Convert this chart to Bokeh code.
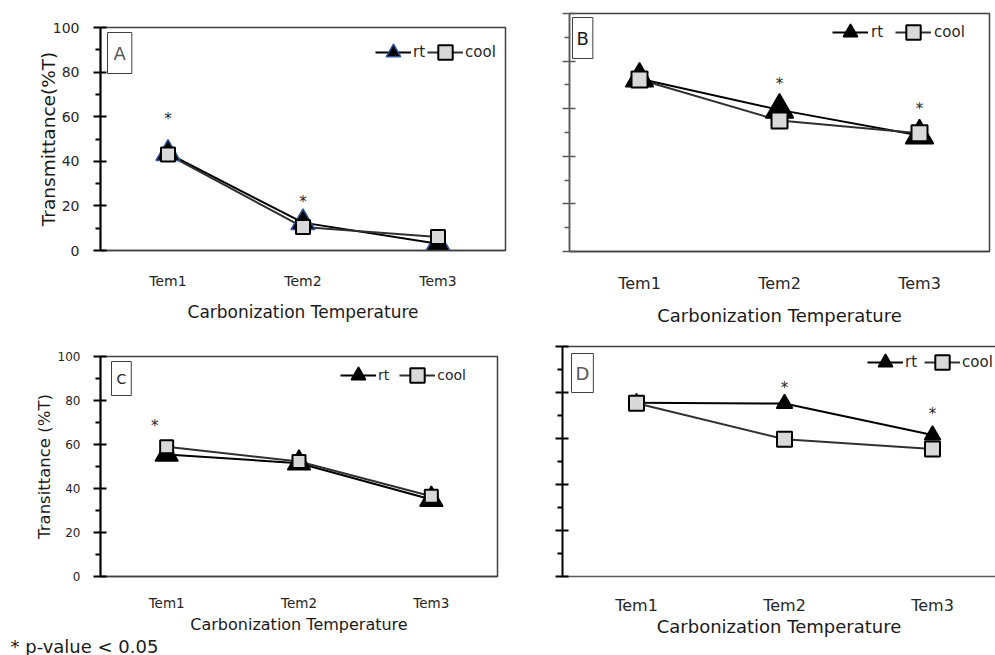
from bokeh.plotting import figure
from bokeh.layouts import column, row
from bokeh.models import Range1d, FixedTicker, Legend, LegendItem, Label, LinearAxis
from bokeh.core.properties import value
from bokeh.embed import file_html
from bokeh.resources import INLINE

FONT = "DejaVu Sans"

categories = ["Tem1", "Tem2", "Tem3"]
y_ticks = [0, 20, 40, 60, 80, 100]
y_minor = [10, 30, 50, 70, 90]
series_names = ["rt", "cool"]
footnote = "* p-value < 0.05"

# Panel A
a_rt = [43.5, 12.5, 3.0]
a_cool = [43.0, 10.5, 6.0]
a_star_idx = [0, 1]
a_star_y = [59.0, 21.7]

# Panel B
b_rt = [72.6, 59.5, 48.7]
b_cool = [72.3, 55.0, 49.7]
b_star_idx = [1, 2]
b_star_y = [70.5, 60.0]

# Panel C
c_rt = [55.5, 51.5, 35.0]
c_cool = [59.0, 52.3, 36.5]
c_star_idx = [0]
c_star_y = [68.5]

# Panel D
d_rt = [75.5, 75.2, 61.5]
d_cool = [75.3, 59.7, 55.4]
d_star_idx = [1, 2]
d_star_y = [82.0, 70.6]

x_idx = list(range(len(categories)))


def make_panel(cfg, rt, cool, star_idx, star_y):
    p = figure(width=cfg["w"], height=cfg["h"],
               x_range=Range1d(-0.5, cfg["x_end"]), y_range=Range1d(0, 100),
               output_backend="svg", toolbar_location=None, frame_align=False,
               min_border_left=cfg["bl"], min_border_right=cfg["br"],
               min_border_top=cfg["bt"], min_border_bottom=cfg["bb"])
    p.background_fill_color = "white"
    p.border_fill_color = "white"
    p.xgrid.visible = False
    p.ygrid.visible = False
    if cfg.get("outline", True):
        p.outline_line_color = "#404040"
        p.outline_line_width = 1.5
    else:
        p.outline_line_color = None

    # x axis
    xa = p.xaxis[0]
    xa.ticker = FixedTicker(ticks=x_idx)
    xa.major_label_overrides = {i: c for i, c in enumerate(categories)}
    xa.major_tick_out = 0
    xa.major_tick_in = 0
    xa.minor_tick_out = 0
    xa.minor_tick_in = 0
    xa.axis_line_color = cfg.get("xaxis_color", "#404040")
    xa.axis_line_width = 1.5
    xa.major_label_text_font = FONT
    xa.major_label_text_font_size = cfg["xtick_fs"]
    xa.major_label_text_color = "#262626"
    xa.major_label_standoff = cfg["xtick_so"]
    xa.axis_label = "Carbonization Temperature"
    xa.axis_label_text_font = FONT
    xa.axis_label_text_font_style = "normal"
    xa.axis_label_text_font_size = cfg["xlab_fs"]
    xa.axis_label_text_color = "#1a1a1a"
    xa.axis_label_standoff = cfg["xlab_so"]

    # y axis
    ya = p.yaxis[0]
    ya.ticker = FixedTicker(ticks=y_ticks, minor_ticks=y_minor)
    ya.major_tick_out = 7
    ya.major_tick_in = 6
    ya.minor_tick_out = 5
    ya.minor_tick_in = 0
    ycol = cfg.get("yaxis_color", "black")
    ya.axis_line_color = ycol
    ya.major_tick_line_color = ycol
    ya.minor_tick_line_color = ycol
    ya.axis_line_width = cfg.get("yaxis_w", 2)
    ya.major_tick_line_width = cfg.get("yaxis_w", 2)
    ya.minor_tick_line_width = cfg.get("yaxis_w", 2)
    if cfg.get("ylabel"):
        ya.major_label_text_font = FONT
        ya.major_label_text_font_size = cfg["ytick_fs"]
        ya.major_label_text_color = "#262626"
        ya.major_label_standoff = cfg["ytick_so"]
        ya.axis_label = cfg["ylabel"]
        ya.axis_label_text_font = FONT
        ya.axis_label_text_font_style = "normal"
        ya.axis_label_text_font_size = cfg["ylab_fs"]
        ya.axis_label_text_color = "#1a1a1a"
        ya.axis_label_standoff = cfg["ylab_so"]
    else:
        ya.major_label_overrides = {t: "" for t in y_ticks}
        ya.major_label_standoff = 0

    if not cfg.get("outline", True):
        top = LinearAxis(ticker=FixedTicker(ticks=[]), axis_line_color="#404040",
                         axis_line_width=1.5, major_tick_out=0, major_tick_in=0,
                         minor_tick_out=0, minor_tick_in=0)
        p.add_layout(top, "above")

    # data
    l_rt = p.line(x_idx, rt, line_color="black", line_width=2)
    l_cool = p.line(x_idx, cool, line_color="#303030", line_width=2)
    s_rt = p.scatter(x_idx, rt, marker="triangle", size=cfg["tri"],
                     fill_color="black", line_color=cfg.get("tri_edge", "black"),
                     line_width=1.5)
    s_cool = p.scatter(x_idx, cool, marker="square", size=cfg["sq"],
                       fill_color="#d9d9d9", line_color="black", line_width=2)

    p.text(x=star_idx, y=star_y, text=["*"] * len(star_idx),
           text_align="center", text_baseline="middle",
           text_font=value(FONT), text_font_size="15px", text_color="#262626",
           x_offset=cfg.get("star_dx", 0))

    legend = Legend(items=[LegendItem(label=series_names[0], renderers=[l_rt, s_rt]),
                           LegendItem(label=series_names[1], renderers=[l_cool, s_cool])],
                    orientation="horizontal", location=cfg["leg_loc"],
                    glyph_width=36, glyph_height=38, label_standoff=cfg["leg_so"],
                    label_width=0, spacing=cfg["leg_sp"], padding=0, margin=0,
                    border_line_color=None, background_fill_alpha=0,
                    label_text_font=FONT, label_text_font_size=cfg["leg_fs"],
                    label_text_color="#262626")
    p.add_layout(legend)

    lab = Label(x=cfg["pl_x"], y=cfg["pl_y"], x_units="screen", y_units="screen",
                text=cfg["panel"], text_align="left", text_baseline="top",
                text_font=FONT, text_font_size=cfg["pl_fs"], text_color=cfg["pl_color"],
                padding=cfg["pl_pad"], border_line_color="#404040", border_line_width=1,
                background_fill_color="white")
    p.add_layout(lab)
    return p


cfgA = dict(w=545, h=328, bl=100, br=40, bt=27, bb=78, x_end=2.5,
            xtick_fs="14px", xtick_so=22, xlab_fs="17px", xlab_so=10,
            ylabel="Transmittance(%T)", ytick_fs="14px", ytick_so=14,
            ylab_fs="18.5px", ylab_so=-9,
            tri=24, sq=14, tri_edge="#2f5597",
            leg_loc=(275, 179), leg_so=2, leg_sp=2, leg_fs="15px",
            panel="A", pl_x=7, pl_y=218, pl_fs="18px", pl_color="#595959", pl_pad=(6, 10))

cfgB = dict(w=450, h=328, bl=24, br=6, bt=13, bb=77, x_end=2.5,
            xtick_fs="16px", xtick_so=22, xlab_fs="18px", xlab_so=9,
            yaxis_color="#595959", yaxis_w=1.5,
            tri=28, sq=16,
            leg_loc=(263, 200), leg_so=3, leg_sp=12, leg_fs="15px",
            panel="B", pl_x=3, pl_y=234, pl_fs="18px", pl_color="#1a1a1a", pl_pad=(4, 10))

cfgC = dict(w=545, h=308, bl=100, br=48, bt=28, bb=60, x_end=2.5,
            xtick_fs="13.5px", xtick_so=18, xlab_fs="16px", xlab_so=1,
            ylabel="Transittance (%T)", ytick_fs="12px", ytick_so=13,
            ylab_fs="16.5px", ylab_so=1,
            tri=23, sq=13, star_dx=-12,
            leg_loc=(240, 182), leg_so=2, leg_sp=10, leg_fs="14px",
            panel="C", pl_x=11, pl_y=215, pl_fs="14px", pl_color="#262626", pl_pad=(5, 9))

cfgD = dict(w=450, h=327, bl=17, br=0, bt=18, bb=79, x_end=-0.5 + 433 / 148,
            xtick_fs="16px", xtick_so=19, xlab_fs="18px", xlab_so=-2,
            outline=False, xaxis_color="#595959",
            tri=16, sq=15,
            leg_loc=(305, 195), leg_so=2, leg_sp=7, leg_fs="15px",
            panel="D", pl_x=9, pl_y=223, pl_fs="18px", pl_color="#595959", pl_pad=(4, 9))

pA = make_panel(cfgA, a_rt, a_cool, a_star_idx, a_star_y)
pB = make_panel(cfgB, b_rt, b_cool, b_star_idx, b_star_y)
pC = make_panel(cfgC, c_rt, c_cool, c_star_idx, c_star_y)
pD = make_panel(cfgD, d_rt, d_cool, d_star_idx, d_star_y)

# footnote strip
pF = figure(width=545, height=19, x_range=Range1d(0, 1), y_range=Range1d(0, 1),
            output_backend="svg", toolbar_location=None, frame_align=False,
            x_axis_location=None, y_axis_location=None,
            min_border_left=0, min_border_right=0, min_border_top=0, min_border_bottom=0)
pF.outline_line_color = None
pF.xgrid.visible = False
pF.ygrid.visible = False
pF.add_layout(Label(x=10, y=9.5, x_units="screen", y_units="screen",
                    text=footnote, text_align="left", text_baseline="middle",
                    text_font=FONT, text_font_size="18px", text_color="#1a1a1a"))

layout = row(column(pA, pC, pF, spacing=0), column(pB, pD, spacing=0), spacing=0)

with open("out.html", "w") as f:
    f.write(file_html(layout, INLINE))
